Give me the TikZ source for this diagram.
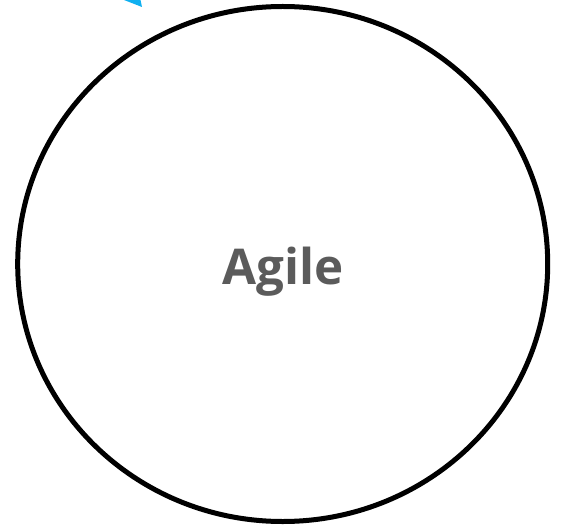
\documentclass[tikz,border=0pt]{standalone}
\usepackage{fontspec}
\setmainfont{Open Sans}
\definecolor{txtgray}{HTML}{5B5B5B}
\definecolor{arrowcyan}{HTML}{10B0F0}
\begin{document}
\begin{tikzpicture}[x=1bp,y=-1bp,
  ring/.style={draw=black,line width=5bp},
  label/.style={text=txtgray,font=\bfseries\fontsize{49.5}{52}\selectfont}]
\useasboundingbox (0,0) rectangle (563,529);
\draw[ring] (282.7,264) ellipse [x radius=265, y radius=257.5];
\node[label,anchor=base] (agile) at (282.7,284.7) {Agile};
\fill[arrowcyan] (124,0) -- (140.5,0) -- (142,7) -- cycle;
\end{tikzpicture}
\end{document}
